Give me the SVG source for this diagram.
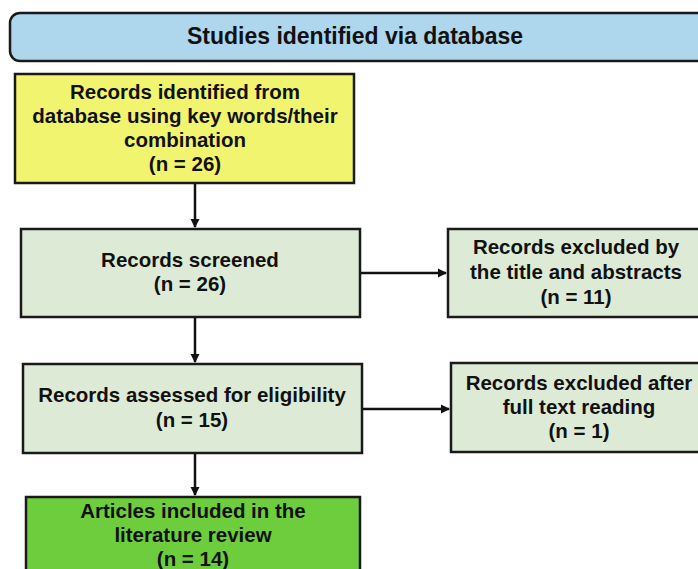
<svg xmlns="http://www.w3.org/2000/svg" width="698" height="569" viewBox="0 0 698 569">
<style>
.box{stroke:#1a1a1a;stroke-width:2.5}
.t{font-family:"Liberation Sans",Arial,sans-serif;font-weight:bold;font-size:20.5px;fill:#111;text-anchor:middle}
.title{font-size:23px}
.c{stroke:#111;stroke-width:2.5;fill:none}
</style>
<defs>
<marker id="ah" markerWidth="10" markerHeight="10" refX="8" refY="5" orient="auto" markerUnits="userSpaceOnUse">
<path d="M0,0.5 L9,5 L0,9.5 Z" fill="#111"/>
</marker>
</defs>
<rect width="698" height="569" fill="#fff"/>
<g id="header">
<rect class="box" x="10" y="13" width="710" height="48" rx="10" fill="#aed6ec"/>
<text class="t title" x="355" y="44">Studies identified via database</text>
</g>
<g id="identified">
<rect class="box" x="15" y="74" width="339" height="109" fill="#f1f46e"/>
<text class="t" x="185" y="99">Records identified from</text>
<text class="t" x="185" y="123">database using key words/their</text>
<text class="t" x="185" y="147">combination</text>
<text class="t" x="185" y="171">(n = 26)</text>
</g>
<g id="screened">
<rect class="box" x="21" y="229" width="339" height="88" fill="#ddebd6"/>
<text class="t" x="190" y="267">Records screened</text>
<text class="t" x="190" y="291">(n = 26)</text>
</g>
<g id="excluded1">
<rect class="box" x="448" y="229" width="270" height="88" fill="#ddebd6"/>
<text class="t" x="576" y="254">Records excluded by</text>
<text class="t" x="576" y="279">the title and abstracts</text>
<text class="t" x="576" y="304">(n = 11)</text>
</g>
<g id="assessed">
<rect class="box" x="23" y="364" width="339" height="89" fill="#ddebd6"/>
<text class="t" x="192" y="402">Records assessed for eligibility</text>
<text class="t" x="192" y="427">(n = 15)</text>
</g>
<g id="excluded2">
<rect class="box" x="451" y="363" width="270" height="89" fill="#ddebd6"/>
<text class="t" x="579" y="390">Records excluded after</text>
<text class="t" x="579" y="414">full text reading</text>
<text class="t" x="579" y="438">(n = 1)</text>
</g>
<g id="included">
<rect class="box" x="26" y="497" width="334" height="90" fill="#6dcd3c"/>
<text class="t" x="193" y="518">Articles included in the</text>
<text class="t" x="193" y="542">literature review</text>
<text class="t" x="193" y="566">(n = 14)</text>
</g>
<g id="connectors">
<line class="c" x1="195" y1="184" x2="195" y2="227" marker-end="url(#ah)"/>
<line class="c" x1="195" y1="318" x2="195" y2="362" marker-end="url(#ah)"/>
<line class="c" x1="195" y1="454" x2="195" y2="495" marker-end="url(#ah)"/>
<line class="c" x1="361" y1="273" x2="446" y2="273" marker-end="url(#ah)"/>
<line class="c" x1="363" y1="409" x2="449" y2="409" marker-end="url(#ah)"/>
</g>
</svg>
